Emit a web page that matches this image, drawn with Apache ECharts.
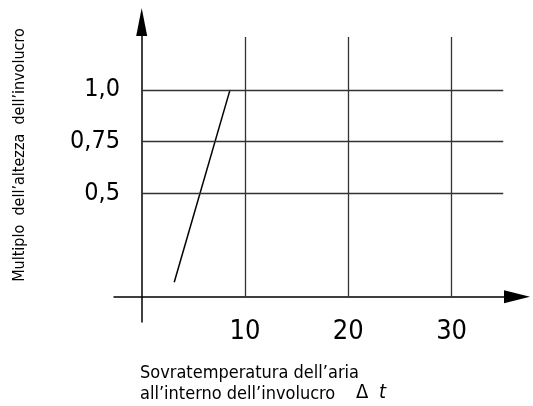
<!DOCTYPE html>
<html><head><meta charset="utf-8">
<script src="https://cdn.jsdelivr.net/npm/echarts@6/dist/echarts.min.js"></script>
<style>html,body{margin:0;padding:0;background:#fff}#c{width:533px;height:406px}</style>
</head><body><div id="c"></div>
<script>
// data
const curveX = [3.15, 8.55];
const curveY = [0.07, 1.0];
const xTicks = [10, 20, 30];
const xTickLabels = ['10', '20', '30'];
const yTicks = [0.5, 0.75, 1.0];
const yTickLabels = ['0,5', '0,75', '1,0'];
const xGridEnd = 35;      // right end of horizontal grid lines (data units)
const yGridTop = 1.256;   // top end of vertical grid lines (data units)
const xRange = [-2.68, 36.33];
const yRange = [-0.122, 1.328];

const FONT = '"Liberation Sans Narrow", "DejaVu Sans Condensed", sans-serif';
const chart = echarts.init(document.getElementById('c'));

const gridLines = [];
xTicks.forEach(v => gridLines.push([{coord: [v, 0]}, {coord: [v, yGridTop]}]));
yTicks.forEach(v => gridLines.push([{coord: [0, v]}, {coord: [xGridEnd, v]}]));

chart.setOption({
  animation: false,
  grid: {left: 114, right: 16, top: 22, bottom: 84},
  xAxis: {
    type: 'value', min: xRange[0], max: xRange[1],
    axisLine: {onZero: true, lineStyle: {color: '#000', width: 1.5}, symbol: ['none', 'triangle'], symbolSize: [13, 26]},
    axisTick: {show: false}, splitLine: {show: false},
    axisLabel: {customValues: xTicks, formatter: v => xTickLabels[xTicks.indexOf(v)], color: '#000', fontFamily: FONT, fontSize: 27, margin: -4}
  },
  yAxis: {
    type: 'value', min: yRange[0], max: yRange[1],
    axisLine: {onZero: true, lineStyle: {color: '#000', width: 1.5}, symbol: ['none', 'triangle'], symbolSize: [11, 28]},
    axisTick: {show: false}, splitLine: {show: false},
    axisLabel: {customValues: yTicks, formatter: v => yTickLabels[yTicks.indexOf(v)], color: '#000', fontFamily: FONT, fontSize: 25, margin: -6}
  },
  series: [{
    type: 'line', data: curveX.map((x, i) => [x, curveY[i]]),
    showSymbol: false, lineStyle: {color: '#000', width: 1.5},
    markLine: {silent: true, symbol: ['none', 'none'], label: {show: false},
      lineStyle: {color: '#333', width: 1.3, type: 'solid'}, data: gridLines}
  }],
  graphic: [
    {type: 'text', x: 20, y: 155, rotation: Math.PI / 2,
      style: {text: 'Multiplo  dell\u2019altezza  dell\u2019involucro', font: '16px ' + FONT, fill: '#000', textAlign: 'center', textVerticalAlign: 'middle'}},
    {type: 'text', left: 140, top: 364,
      style: {text: 'Sovratemperatura dell\u2019aria', font: '18px ' + FONT, fill: '#000'}},
    {type: 'text', left: 140, top: 385,
      style: {text: 'all\u2019interno dell\u2019involucro', font: '18px ' + FONT, fill: '#000'}},
    {type: 'text', left: 356, top: 383,
      style: {text: '\u0394', font: '20px ' + FONT, fill: '#000'}},
    {type: 'text', left: 379, top: 383,
      style: {text: 't', font: 'italic 20px ' + FONT, fill: '#000'}}
  ]
});
</script></body></html>
